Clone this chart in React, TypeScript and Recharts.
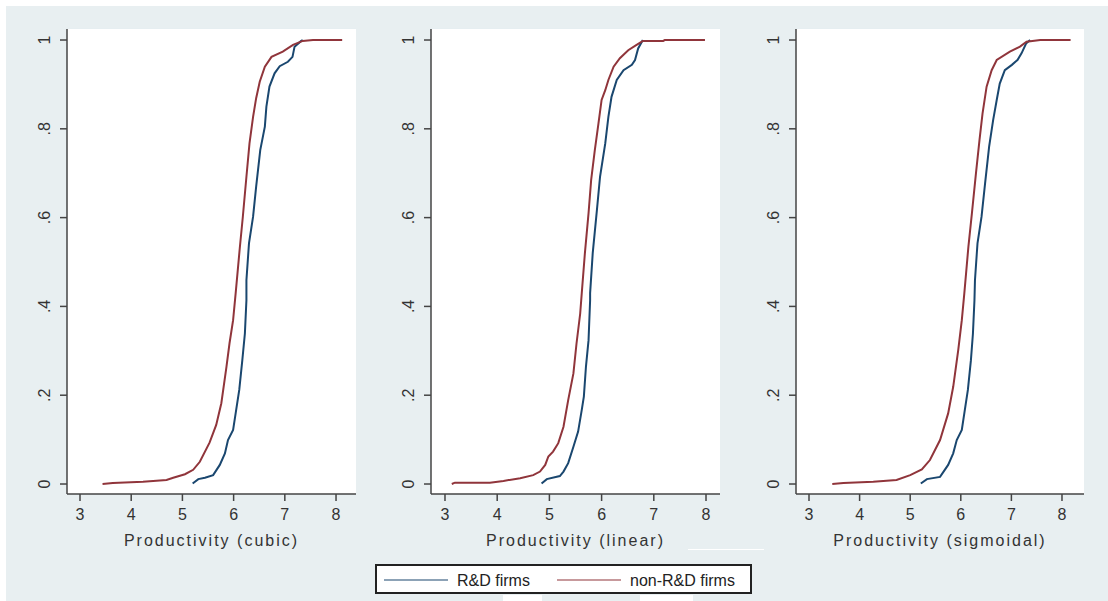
import { CartesianGrid, Line, LineChart, XAxis, YAxis } from "recharts";

const xTicks = [3, 4, 5, 6, 7, 8];
const yTicks = [0, 0.2, 0.4, 0.6, 0.8, 1];
const yTickLabels = ["0", ".2", ".4", ".6", ".8", "1"];
const seriesNames = ["R&D firms", "non-R&D firms"];
const seriesColors = ["#1a476f", "#90353b"];
const panelTitles = ["Productivity (cubic)", "Productivity (linear)", "Productivity (sigmoidal)"];

const cubicRdX = [5.2, 5.31, 5.44, 5.6, 5.73, 5.83, 5.89, 5.99, 6.05, 6.11, 6.17, 6.22, 6.25, 6.25, 6.3, 6.38, 6.44, 6.52, 6.61, 6.64, 6.7, 6.8, 6.9, 7.06, 7.15, 7.19, 7.32, 7.35];
const cubicRdY = [0.001, 0.011, 0.014, 0.02, 0.043, 0.069, 0.099, 0.122, 0.167, 0.212, 0.279, 0.339, 0.414, 0.459, 0.542, 0.602, 0.67, 0.752, 0.805, 0.85, 0.895, 0.925, 0.941, 0.951, 0.962, 0.985, 0.998, 1];
const cubicNonX = [3.44, 3.64, 4.23, 4.69, 4.82, 5.05, 5.21, 5.34, 5.53, 5.66, 5.76, 5.86, 5.92, 5.99, 6.04, 6.12, 6.18, 6.25, 6.31, 6.38, 6.44, 6.51, 6.61, 6.74, 6.96, 7.16, 7.35, 7.55, 8.12];
const cubicNonY = [0, 0.002, 0.005, 0.009, 0.014, 0.022, 0.032, 0.05, 0.093, 0.133, 0.182, 0.264, 0.317, 0.369, 0.43, 0.531, 0.602, 0.692, 0.767, 0.827, 0.869, 0.906, 0.94, 0.962, 0.974, 0.989, 0.998, 1, 1];

const linearRdX = [4.85, 4.95, 5.2, 5.27, 5.36, 5.46, 5.55, 5.62, 5.66, 5.7, 5.75, 5.78, 5.78, 5.83, 5.91, 5.97, 6.07, 6.13, 6.19, 6.29, 6.42, 6.58, 6.64, 6.7, 6.79];
const linearRdY = [0.001, 0.011, 0.018, 0.028, 0.047, 0.084, 0.118, 0.167, 0.197, 0.264, 0.324, 0.414, 0.43, 0.52, 0.617, 0.692, 0.767, 0.827, 0.872, 0.91, 0.932, 0.944, 0.955, 0.981, 1];
const linearNonX = [3.13, 3.19, 3.86, 4.12, 4.44, 4.69, 4.82, 4.92, 4.98, 5.07, 5.17, 5.27, 5.36, 5.46, 5.52, 5.59, 5.62, 5.68, 5.75, 5.8, 5.87, 5.94, 6.0, 6.07, 6.13, 6.23, 6.35, 6.51, 6.67, 6.79, 7.18, 7.21, 7.98];
const linearNonY = [0, 0.003, 0.003, 0.007, 0.013, 0.02, 0.028, 0.043, 0.062, 0.073, 0.092, 0.129, 0.189, 0.249, 0.317, 0.384, 0.43, 0.52, 0.61, 0.685, 0.752, 0.812, 0.865, 0.887, 0.91, 0.94, 0.959, 0.977, 0.989, 0.998, 0.998, 1, 1];

const sigmoidRdX = [5.21, 5.33, 5.59, 5.75, 5.85, 5.92, 6.02, 6.08, 6.14, 6.2, 6.24, 6.27, 6.28, 6.33, 6.41, 6.48, 6.56, 6.64, 6.71, 6.77, 6.87, 7.01, 7.12, 7.2, 7.29, 7.37];
const sigmoidRdY = [0.001, 0.011, 0.016, 0.043, 0.069, 0.099, 0.122, 0.167, 0.212, 0.279, 0.339, 0.414, 0.459, 0.542, 0.602, 0.677, 0.76, 0.82, 0.865, 0.902, 0.932, 0.944, 0.955, 0.97, 0.992, 1];
const sigmoidNonX = [3.46, 3.68, 4.27, 4.73, 5.0, 5.23, 5.39, 5.59, 5.75, 5.85, 5.95, 6.02, 6.07, 6.15, 6.22, 6.3, 6.37, 6.43, 6.51, 6.61, 6.71, 6.97, 7.17, 7.3, 7.57, 8.17];
const sigmoidNonY = [0, 0.002, 0.005, 0.009, 0.02, 0.033, 0.054, 0.099, 0.159, 0.219, 0.302, 0.369, 0.43, 0.534, 0.61, 0.7, 0.775, 0.835, 0.895, 0.932, 0.955, 0.974, 0.985, 0.996, 1, 1];

const toPoints = (xs: number[], ys: number[]) => xs.map((x, i) => ({ x, y: ys[i] }));

const panels = [
  { title: panelTitles[0], axisX: 67, right: 356, xDomain: [2.746, 8.39], series: [toPoints(cubicRdX, cubicRdY), toPoints(cubicNonX, cubicNonY)] },
  { title: panelTitles[1], axisX: 431, right: 720, xDomain: [2.732, 8.268], series: [toPoints(linearRdX, linearRdY), toPoints(linearNonX, linearNonY)] },
  { title: panelTitles[2], axisX: 796, right: 1084, xDomain: [2.743, 8.435], series: [toPoints(sigmoidRdX, sigmoidRdY), toPoints(sigmoidNonX, sigmoidNonY)] },
];

const FONT = "'Liberation Sans', Arial, sans-serif";
const BG = "#e8eff1";
const INK = "#333";
const AXIS = "#444";
const TOP = 29;
const BOTTOM = 494;
const H = 601;

function YTick(props: any) {
  const { x, y, payload } = props;
  const i = yTicks.indexOf(payload.value);
  return (
    <text x={x} y={y} transform={`rotate(-90 ${x} ${y})`} textAnchor="middle" fill={INK} fontSize={16} fontFamily={FONT}>
      {yTickLabels[i] ?? payload.value}
    </text>
  );
}

function Panel({ p }: { p: (typeof panels)[number] }) {
  const left = p.axisX - 60;
  const width = p.right - left + 10;
  return (
    <div style={{ position: "absolute", left, top: 0 }}>
      <LineChart width={width} height={H} margin={{ top: TOP, right: 10, left: 0, bottom: H - BOTTOM - 60 }}>
        <rect x={60} y={TOP} width={p.right - p.axisX} height={BOTTOM - TOP} fill="#fff" />
        <CartesianGrid vertical={false} stroke="#e6eef1" strokeWidth={1.5} />
        <XAxis
          type="number"
          dataKey="x"
          domain={p.xDomain}
          ticks={xTicks}
          allowDataOverflow
          height={60}
          tickSize={7}
          tickMargin={8}
          stroke={AXIS}
          strokeWidth={1.5}
          tick={{ fill: INK, fontSize: 16, fontFamily: FONT }}
          label={{ value: p.title, position: "insideBottom", offset: 8, fill: INK, fontSize: 16, fontFamily: FONT, letterSpacing: 2 }}
        />
        <YAxis
          type="number"
          dataKey="y"
          domain={[-0.0225, 1.0248]}
          ticks={yTicks}
          allowDataOverflow
          width={60}
          tickSize={7}
          tickMargin={10}
          stroke={AXIS}
          strokeWidth={1.5}
          tick={<YTick />}
        />
        {p.series.map((pts, k) => (
          <Line
            key={seriesNames[k]}
            data={pts}
            dataKey="y"
            name={seriesNames[k]}
            type="linear"
            stroke={seriesColors[k]}
            strokeWidth={2}
            dot={false}
            isAnimationActive={false}
          />
        ))}
      </LineChart>
    </div>
  );
}

function LegendBox() {
  return (
    <svg style={{ position: "absolute", left: 375, top: 564 }} width={377} height={30}>
      <rect x={1} y={1} width={375} height={28} fill="#fff" stroke="#222" strokeWidth={2} />
      {seriesNames.map((name, k) => (
        <g key={name} transform={`translate(${k * 173} 0)`}>
          <line x1={9} x2={73} y1={16} y2={16} stroke={seriesColors[k]} strokeWidth={1.2} />
          <text x={82} y={22} fontSize={16} fontFamily={FONT} fill="#222">
            {name}
          </text>
        </g>
      ))}
    </svg>
  );
}

export default function App() {
  return (
    <div style={{ position: "absolute", left: 0, top: 0, width: 1108, height: H, background: "#fff", overflow: "hidden" }}>
      <div style={{ position: "absolute", left: 6, top: 6, right: 0, bottom: 0, background: BG }} />
      {/* scanning artefacts in the source image */}
      <div style={{ position: "absolute", left: 688, top: 549, width: 76, height: 1, background: "#fff" }} />
      <div style={{ position: "absolute", left: 503, top: 595, width: 39, height: 6, background: "#fff" }} />
      <div style={{ position: "absolute", left: 640, top: 595, width: 53, height: 6, background: "#fff" }} />
      {panels.map((p) => (
        <Panel key={p.title} p={p} />
      ))}
      <LegendBox />
    </div>
  );
}
